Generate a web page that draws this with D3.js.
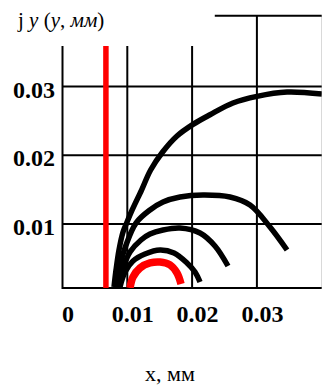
<!DOCTYPE html>
<html><head><meta charset="utf-8">
<script src="https://cdn.jsdelivr.net/npm/d3@7"></script>
<style>html,body{margin:0;padding:0;background:#fff;}svg{display:block;}</style>
</head><body>
<script>
// ---- data (mm) ----
const xTicks = [0, 0.01, 0.02, 0.03];
const xTickLabels = ["0", "0.01", "0.02", "0.03"];
const yTicks = [0.01, 0.02, 0.03];
const yTickLabels = ["0.01", "0.02", "0.03"];
const redLineX = 0.0067;
const curve1 = [[0.00795,0.00085],[0.00826,0.00332],[0.00872,0.00623],[0.00934,0.00884],[0.0099,0.01015],[0.01075,0.01205],[0.0122,0.01495],[0.0136,0.01786],[0.01545,0.02048],[0.01767,0.02281],[0.02014,0.0245],[0.02276,0.0259],[0.02631,0.02761],[0.03001,0.02858],[0.03465,0.02921],[0.04005,0.02892]];
const curve2 = [[0.00826,0.00085],[0.00887,0.00405],[0.0098,0.00695],[0.01134,0.01015],[0.0135,0.01205],[0.01551,0.01321],[0.01813,0.01394],[0.02168,0.01423],[0.02585,0.01394],[0.02894,0.01277],[0.03202,0.00957],[0.03465,0.00623]];
const curve3 = [[0.00856,0.00085],[0.00934,0.00361],[0.01042,0.00594],[0.01211,0.00768],[0.0135,0.00855],[0.01551,0.00914],[0.01813,0.00943],[0.02122,0.0087],[0.02353,0.00681],[0.02554,0.0039]];
const curve4 = [[0.00887,0.00085],[0.00965,0.00303],[0.01088,0.00463],[0.01273,0.00565],[0.01505,0.00623],[0.01721,0.00579],[0.01921,0.00434],[0.02045,0.00303],[0.02122,0.00157]];
const redCurve = [[0.01042,0.0007],[0.01088,0.0023],[0.01196,0.00361],[0.0135,0.00434],[0.01505,0.00448],[0.01659,0.00405],[0.01767,0.00288],[0.01829,0.00128]];

const W = 322, H = 387;
const svg = d3.select("body").append("svg").attr("width", W).attr("height", H);
const x = d3.scaleLinear().domain([0, 0.04]).range([62.5, 321.7]);
const y = d3.scaleLinear().domain([0.0007, 0.0359]).range([288, 46]);
const yTop2 = 0.0403;

svg.append("defs").append("clipPath").attr("id","clip")
  .append("rect").attr("x", x(0)).attr("y", y(0.0359)).attr("width", x(0.04)-x(0)).attr("height", y(0.0007)-y(0.0359));

// right light edge
svg.append("line").attr("x1", x(0.04)).attr("x2", x(0.04)).attr("y1", y(yTop2)).attr("y2", y(0.0007))
  .attr("stroke", "#d0d0d0").attr("stroke-width", 1);

// grid
const g = svg.append("g").attr("stroke", "#000").attr("stroke-width", 2);
yTicks.forEach(v => g.append("line").attr("x1", x(0)).attr("x2", x(0.04)).attr("y1", y(v)).attr("y2", y(v)));
xTicks.slice(1).forEach(v => g.append("line").attr("x1", x(v)).attr("x2", x(v))
  .attr("y1", y(0.0007)).attr("y2", y(v === 0.03 ? yTop2 : 0.0359)));
// top fragment line
g.append("line").attr("x1", x(0.0235)).attr("x2", x(0.04)).attr("y1", y(yTop2)).attr("y2", y(yTop2));
// axes
g.append("line").attr("x1", x(0)).attr("x2", x(0)).attr("y1", y(0.0359)).attr("y2", y(0.0007)+1);
g.append("line").attr("x1", x(0)).attr("x2", x(0.04)).attr("y1", y(0.0007)).attr("y2", y(0.0007));

// red vertical line
svg.append("line").attr("x1", x(redLineX)).attr("x2", x(redLineX)).attr("y1", y(0.0359)).attr("y2", y(0.0007))
  .attr("stroke", "#ff0000").attr("stroke-width", 5.5);

const line = d3.line().x(d => x(d[0])).y(d => y(d[1])).curve(d3.curveCatmullRom);
const cg = svg.append("g").attr("clip-path", "url(#clip)").attr("fill", "none").attr("stroke-linejoin","round");
[curve1, curve2, curve3, curve4].forEach(c => cg.append("path").attr("d", line(c)).attr("stroke", "#000").attr("stroke-width", 5.5));
cg.append("path").attr("d", line(redCurve)).attr("stroke", "#ff0000").attr("stroke-width", 7.5);

// tick labels
const font = "'Liberation Serif', 'Times New Roman', serif";
xTicks.forEach((v, i) => svg.append("text").attr("x", x(v) + 5.5).attr("y", 322)
  .attr("text-anchor", "middle").attr("font-family", font).attr("font-weight", "bold").attr("font-size", 24)
  .text(xTickLabels[i]));
yTicks.forEach((v, i) => svg.append("text").attr("x", 55).attr("y", y(v) + 11)
  .attr("text-anchor", "end").attr("font-family", font).attr("font-weight", "bold").attr("font-size", 24)
  .text(yTickLabels[i]));

// titles
const t = svg.append("text").attr("x", 18).attr("y", 27).attr("font-family", font).attr("font-size", 21);
t.append("tspan").text("j ");
t.append("tspan").attr("font-style", "italic").text("y");
t.append("tspan").text(" (");
t.append("tspan").attr("font-style", "italic").text("y");
t.append("tspan").text(", ");
t.append("tspan").attr("font-style", "italic").text("мм");
t.append("tspan").text(")");

svg.append("text").attr("x", 170).attr("y", 381).attr("text-anchor", "middle")
  .attr("font-family", font).attr("font-size", 22).text("x, мм");
</script>
</body></html>
